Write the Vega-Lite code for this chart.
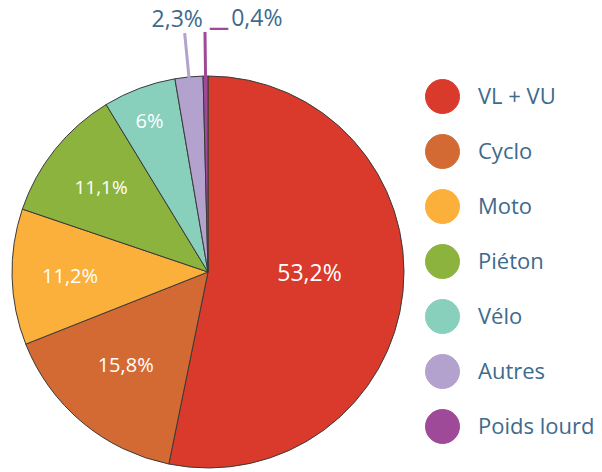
{
  "$schema": "https://vega.github.io/schema/vega-lite/v6.json",
  "width": 392,
  "height": 392,
  "autosize": {"type": "none"},
  "padding": {"left": 12, "top": 76, "right": 198, "bottom": 4},
  "background": "white",
  "config": {"view": {"stroke": null}, "font": "Open Sans"},
  "data": {
    "values": [
      {"category": "VL + VU", "value": 53.2, "label": "53,2%", "order": 1},
      {"category": "Cyclo", "value": 15.8, "label": "15,8%", "order": 2},
      {"category": "Moto", "value": 11.2, "label": "11,2%", "order": 3},
      {"category": "Piéton", "value": 11.1, "label": "11,1%", "order": 4},
      {"category": "Vélo", "value": 6.0, "label": "6%", "order": 5},
      {"category": "Autres", "value": 2.3, "label": "2,3%", "order": 6},
      {"category": "Poids lourd", "value": 0.4, "label": "0,4%", "order": 7}
    ]
  },
  "encoding": {
    "theta": {"field": "value", "type": "quantitative", "stack": true},
    "order": {"field": "order", "type": "quantitative"},
    "color": {
      "field": "category",
      "type": "nominal",
      "scale": {
        "domain": ["VL + VU", "Cyclo", "Moto", "Piéton", "Vélo", "Autres", "Poids lourd"],
        "range": ["#d93a2b", "#d46a33", "#fbb03b", "#8db33f", "#88cfbc", "#b3a2cd", "#9e4a99"]
      },
      "legend": {
        "title": null,
        "orient": "none",
        "legendX": 413,
        "legendY": 3,
        "symbolType": "circle",
        "symbolSize": 1156,
        "symbolStrokeColor": "#333333",
        "symbolStrokeWidth": 1,
        "symbolOpacity": 1,
        "labelFontSize": 22,
        "labelFont": "Open Sans",
        "labelColor": "#3e6a8c",
        "labelOffset": 18,
        "rowPadding": 16,
        "padding": 0,
        "labelLimit": 300,
        "encode": {
          "symbols": {
            "update": {
              "stroke": {"value": "#333333"},
              "strokeWidth": {"value": 1}
            }
          }
        }
      }
    }
  },
  "layer": [
    {
      "mark": {"type": "arc", "outerRadius": 196, "stroke": "#3a3a3a", "strokeWidth": 1}
    },
    {
      "mark": {"type": "arc", "filled": false, "innerRadius": 195, "outerRadius": 240, "padAngle": 0.4, "strokeWidth": 3},
      "encoding": {
        "strokeOpacity": {
          "condition": {"test": "datum.category === 'Autres' || datum.category === 'Poids lourd'", "value": 1},
          "value": 0
        }
      }
    },
    {
      "mark": {"type": "text", "radius": 102, "fontSize": 23, "dy": -8},
      "encoding": {
        "text": {"condition": {"test": "datum.category === 'VL + VU'", "field": "label"}, "value": ""},
        "color": {"value": "white"},
        "detail": {"field": "category"}
      }
    },
    {
      "mark": {"type": "text", "radius": 122, "fontSize": 20, "dx": -4},
      "encoding": {
        "text": {"condition": {"test": "datum.category === 'Cyclo'", "field": "label"}, "value": ""},
        "color": {"value": "white"},
        "detail": {"field": "category"}
      }
    },
    {
      "mark": {"type": "text", "radius": 138, "fontSize": 20, "dy": 2},
      "encoding": {
        "text": {"condition": {"test": "datum.category === 'Moto'", "field": "label"}, "value": ""},
        "color": {"value": "white"},
        "detail": {"field": "category"}
      }
    },
    {
      "mark": {"type": "text", "radius": 137, "fontSize": 19, "dy": 2},
      "encoding": {
        "text": {"condition": {"test": "datum.category === 'Piéton'", "field": "label"}, "value": ""},
        "color": {"value": "white"},
        "detail": {"field": "category"}
      }
    },
    {
      "mark": {"type": "text", "radius": 161, "fontSize": 20, "dx": -2, "dy": 1},
      "encoding": {
        "text": {"condition": {"test": "datum.category === 'Vélo'", "field": "label"}, "value": ""},
        "color": {"value": "white"},
        "detail": {"field": "category"}
      }
    },
    {
      "mark": {"type": "text", "radius": 255, "fontSize": 23, "dx": -6, "dy": 2},
      "encoding": {
        "text": {"condition": {"test": "datum.category === 'Autres'", "field": "label"}, "value": ""},
        "color": {"value": "#3e6a8c"},
        "detail": {"field": "category"}
      }
    },
    {
      "mark": {"type": "text", "radius": 255, "fontSize": 23, "dx": 52, "dy": 2},
      "encoding": {
        "text": {"condition": {"test": "datum.category === 'Poids lourd'", "field": "label"}, "value": ""},
        "color": {"value": "#3e6a8c"},
        "detail": {"field": "category"}
      }
    },
    {
      "mark": {"type": "text", "radius": 242, "fontSize": 20, "dx": 14, "dy": -2, "fontWeight": "bold", "align": "center"},
      "encoding": {
        "text": {"condition": {"test": "datum.category === 'Poids lourd'", "value": "—"}, "value": ""},
        "color": {"value": "#9e4a99"},
        "detail": {"field": "category"}
      }
    }
  ]
}
